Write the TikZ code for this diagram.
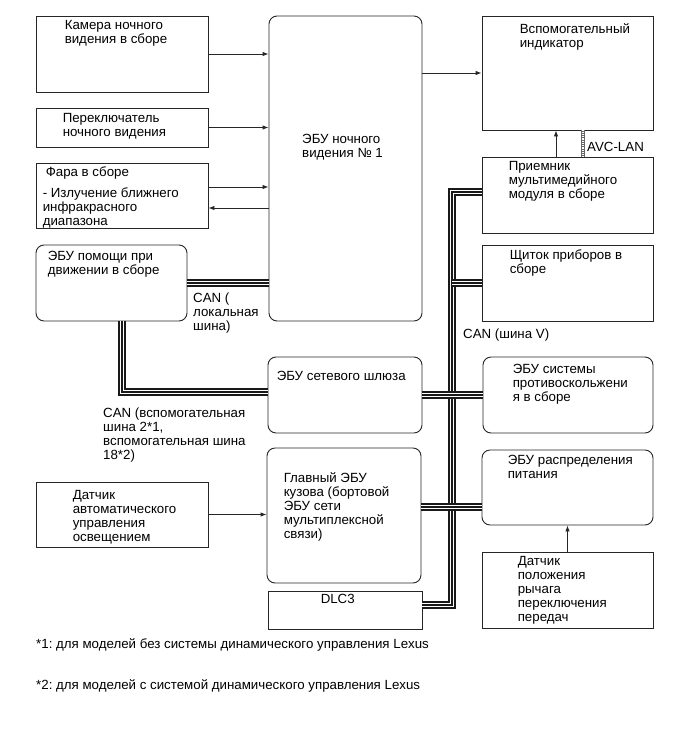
\documentclass[tikz,border=0pt]{standalone}
\usepackage{fontspec}
\setmainfont{Liberation Sans}
\usetikzlibrary{arrows.meta,positioning,calc}
\frenchspacing

\begin{document}
\begin{tikzpicture}[
    x=1pt, y=-1pt,
    >={Latex[length=6,width=4.5]},
    box/.style={rectangle, draw=black!85, line width=0.9, inner sep=0},
    rbox/.style={box, rounded corners=8},
    txt/.style={anchor=north west, inner sep=0, align=left, font=\fontsize{13.3}{14}\selectfont},
    sig/.style={->, line width=0.9, black!85},
    bus/.style={line width=1.1, black!90, preaction={draw, black!90, line width=7.2}, preaction={draw, white, line width=4.4}},
    avc/.style={line width=2.2, white, preaction={draw, black!60, line width=4}, dash pattern=on 0.9 off 0.9}
]
    \fill[white] (0,0) rectangle (690,756);
    \useasboundingbox (0,0) rectangle (690,756);

    % left column
    \node[box, minimum width=172, minimum height=76] (cam) at (122,54) {};
    \node[box, minimum width=172, minimum height=39] (sw) at (122,127.5) {};
    \node[box, minimum width=172, minimum height=65] (lamp) at (122,195.5) {};
    \node[rbox, minimum width=151, minimum height=76] (assist) at (111.5,283) {};
    \node[box, minimum width=172, minimum height=65] (light) at (122,514.5) {};

    % middle column
    \node[rbox, minimum width=153, minimum height=305] (nv) at (345.5,168.5) {};
    \node[rbox, minimum width=154, minimum height=76] (gate) at (345,395) {};
    \node[rbox, minimum width=154, minimum height=135] (body) at (344,515.5) {};
    \node[box, minimum width=154, minimum height=38] (dlc) at (345,610) {};

    % right column
    \node[box, minimum width=171, minimum height=114] (ind) at (567.5,73) {};
    \node[box, minimum width=171, minimum height=76] (recv) at (567.5,195) {};
    \node[box, minimum width=171, minimum height=76] (clu) at (567.5,283) {};
    \node[rbox, minimum width=170, minimum height=76] (skid) at (568,395) {};
    \node[rbox, minimum width=171, minimum height=75] (power) at (567.5,487.5) {};
    \node[box, minimum width=171, minimum height=76] (shift) at (567.5,590) {};

    % texts
    \node[txt] (camT) at ($(cam.north west)+(29,5)$) {Камера ночного\\видения в сборе};
    \node[txt] (swT) at ($(sw.north west)+(27,6)$) {Переключатель\\ночного видения};
    \node[txt] (lampT) at ($(lamp.north west)+(10,4)$) {Фара в сборе};
    \node[txt] (lampT2) at ($(lamp.north west)+(7,25)$) {- Излучение ближнего\\инфракрасного\\диапазона};
    \node[txt] (assistT) at ($(assist.north west)+(12,6)$) {ЭБУ помощи при\\движении в сборе};
    \node[txt] (lightT) at ($(light.north west)+(37,9)$) {Датчик\\автоматического\\управления\\освещением};
    \node[txt] (nvT) at (302,134) {ЭБУ ночного\\видения № 1};
    \node[txt] (gateT) at ($(gate.north west)+(9,14)$) {ЭБУ сетевого шлюза};
    \node[txt] (bodyT) at ($(body.north west)+(17,25)$) {Главный ЭБУ\\кузова (бортовой\\ЭБУ сети\\мультиплексной\\связи)};
    \node[txt] (dlcT) at ($(dlc.north west)+(53,3)$) {DLC3};
    \node[txt] (indT) at ($(ind.north west)+(38,8)$) {Вспомогательный\\индикатор};
    \node[txt] (recvT) at ($(recv.north west)+(27,5)$) {Приемник\\мультимедийного\\модуля в сборе};
    \node[txt] (cluT) at ($(clu.north west)+(28,5)$) {Щиток приборов в\\сборе};
    \node[txt] (skidT) at ($(skid.north west)+(30,7)$) {ЭБУ системы\\противоскольжени\\я в сборе};
    \node[txt] (powerT) at ($(power.north west)+(26,5)$) {ЭБУ распределения\\питания};
    \node[txt] (shiftT) at ($(shift.north west)+(36,5)$) {Датчик\\положения\\рычага\\переключения\\передач};

    % bus labels
    \node[txt] (canLocal) at (193,293) {CAN (\\локальная\\шина)};
    \node[txt] (canSub) at (103,408) {CAN (вспомогательная\\шина 2*1,\\вспомогательная шина\\18*2)};
    \node[txt] (canV) at (463,329) {CAN (шина V)};
    \node[txt] (avcT) at (587,142) {AVC-LAN};

    % notes
    \node[txt] (note1) at (36,638) {*1: для моделей без системы динамического управления Lexus};
    \node[txt] (note2) at (36,679) {*2: для моделей с системой динамического управления Lexus};

    % rows and columns of the wiring
    \coordinate (lampOut) at (0,187);
    \coordinate (lampIn) at (0,208);
    \coordinate (recvOut) at (556,0);
    \coordinate (avcX) at (583,0);
    \coordinate (subX) at (122,0);
    \coordinate (rowSub) at (0,392);
    \coordinate (trunk) at (452,0);
    \coordinate (rowRecv) at (0,192);
    \coordinate (rowBody) at (0,507);
    \coordinate (rowDlc) at (0,605);

    % signal lines
    \draw[sig] (cam.east) -- (cam.east -| nv.west);
    \draw[sig] (sw.east) -- (sw.east -| nv.west);
    \draw[sig] (lamp.east |- lampOut) -- (nv.west |- lampOut);
    \draw[sig] (nv.west |- lampIn) -- (lamp.east |- lampIn);
    \draw[sig] (nv.east |- ind.west) -- (ind.west);
    \draw[sig] (light.east) -- (light.east -| body.west);
    \draw[sig] (recv.north -| recvOut) -- (ind.south -| recvOut);
    \draw[sig] (shift.north) -- (power.south);
    \draw[avc] (recv.north -| avcX) -- (ind.south -| avcX);

    % CAN buses
    \draw[bus] (assist.east) -- (assist.east -| nv.west);
    \draw[bus] (assist.south -| subX) -- (subX |- rowSub) -- (gate.west |- rowSub);
    \draw[bus] (recv.west |- rowRecv) -- (trunk |- rowRecv) -- (trunk |- rowDlc) -- (dlc.east |- rowDlc);
    \draw[bus] (clu.west) -- (clu.west -| trunk);
    \draw[bus] (gate.east) -- (skid.west);
    \draw[bus] (body.east |- rowBody) -- (power.west |- rowBody);
\end{tikzpicture}
\end{document}
